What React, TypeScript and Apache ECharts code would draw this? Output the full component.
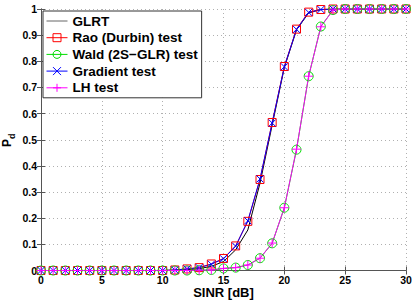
import React, { useEffect, useRef } from "react";
import * as echarts from "echarts";

const snr = [0,1,2,3,4,5,6,7,8,9,10,11,12,13,14,15,16,17,18,19,20,21,22,23,24,25,26,27,28,29,30];
const glrt = [0,0,0,0,0,0,0,0,0,0,0,0.001,0.003,0.007,0.016,0.034,0.079,0.155,0.334,0.556,0.776,0.92,0.985,0.998,1,1,1,1,1,1,1];
const rao = [0,0,0,0,0,0,0,0,0,0,0,0.002,0.006,0.011,0.025,0.046,0.094,0.188,0.348,0.566,0.78,0.923,0.988,0.998,1,1,1,1,1,1,1];
const wald = [0,0,0,0,0,0,0,0,0,0,0,0,0,0.001,0.002,0.008,0.011,0.021,0.047,0.104,0.24,0.462,0.743,0.933,0.996,1,1,1,1,1,1];
const gradient = [0,0,0,0,0,0,0,0,0,0,0,0.002,0.006,0.011,0.024,0.045,0.093,0.19,0.35,0.564,0.779,0.922,0.987,0.998,1,1,1,1,1,1,1];
const lh = [0,0,0,0,0,0,0,0,0,0,0,0,0,0.001,0.002,0.008,0.011,0.021,0.047,0.105,0.24,0.464,0.743,0.932,0.996,1,1,1,1,1,1];
const seriesNames = ["GLRT", "Rao (Durbin) test", "Wald (2S\u2212GLR) test", "Gradient test", "LH test"];
const xTicks = { min: 0, max: 30, interval: 5 };
const yTicks = { min: 0, max: 1, interval: 0.1 };

const FONT = "'Liberation Sans', Arial, sans-serif";

export default function App() {
  const ref = useRef<HTMLDivElement>(null);
  useEffect(() => {
    if (!ref.current) return;
    const chart = echarts.init(ref.current, null, { renderer: "svg" });
    const pair = (arr: number[]) => snr.map((x, i) => [x, arr[i]]);
    const axisLine = { show: true, lineStyle: { color: "#555", width: 1 } };
    const tick = { show: true, inside: true, length: 4, lineStyle: { color: "#555" } };
    const split = { show: true, lineStyle: { color: "#b0b0b0", type: [1, 3] as any, width: 1 } };
    const label = { color: "#000", fontFamily: FONT, fontWeight: "bold" as const, fontSize: 10.5, lineHeight: 11, margin: 4 };
    const mk = (name: string, data: number[], color: string, symbol: string, symbolSize: number) => ({
      name,
      type: "line",
      data: pair(data),
      xAxisIndex: 0,
      yAxisIndex: 0,
      symbol,
      symbolSize,
      showSymbol: symbol !== "none",
      lineStyle: { color, width: 1 },
      itemStyle: { color: "transparent", borderColor: color, borderWidth: 1 },
      emphasis: { disabled: true },
    });
    chart.setOption({
      animation: false,
      backgroundColor: "#fff",
      grid: { left: 41, top: 9, width: 365, height: 261.5, outerBoundsMode: "none", containLabel: false },
      legend: {
        orient: "vertical",
        left: 43,
        top: 11,
        data: [
          {
            name: seriesNames[0],
            itemStyle: { color: "transparent", borderColor: "transparent", borderWidth: 0 },
            lineStyle: { color: "#666", width: 1 },
          },
          seriesNames[1],
          seriesNames[2],
          seriesNames[3],
          seriesNames[4],
        ],
        lineStyle: { width: 1 },
        itemStyle: { borderWidth: 1 },
        backgroundColor: "#fff",
        borderColor: "#333",
        borderWidth: 1,
        padding: [3, 4, 3, 3],
        itemWidth: 21,
        itemHeight: 10,
        itemGap: 2.7,
        borderRadius: 0,
        textStyle: { color: "#000", fontFamily: FONT, fontWeight: "bold", fontSize: 13.5, lineHeight: 14 },
      },
      graphic: [
        {
          type: "group",
          x: 6.5,
          y: 147,
          rotation: Math.PI / 2,
          silent: true,
          children: [
            {
              type: "text",
              x: 0,
              y: 0,
              style: { text: "P", fontFamily: FONT, fontWeight: "bold", fontSize: 12, fill: "#000", align: "left", verticalAlign: "middle" },
            },
            {
              type: "text",
              x: 8,
              y: 5.5,
              style: { text: "d", fontFamily: FONT, fontWeight: "bold", fontSize: 9, fill: "#000", align: "left", verticalAlign: "middle" },
            },
          ],
        },
      ],
      xAxis: [
        {
          type: "value",
          ...xTicks,
          position: "bottom",
          axisLine,
          axisTick: tick,
          splitLine: split,
          axisLabel: label,
          name: "SINR [dB]",
          nameLocation: "middle",
          nameGap: 15,
          nameMoveOverlap: false,
          nameTextStyle: { color: "#000", fontFamily: FONT, fontWeight: "bold", fontSize: 13, lineHeight: 13 },
        },
        {
          type: "value",
          ...xTicks,
          position: "top",
          axisLine,
          axisTick: tick,
          splitLine: { show: false },
          axisLabel: { show: false },
        },
      ],
      yAxis: [
        {
          type: "value",
          ...yTicks,
          position: "left",
          axisLine,
          axisTick: tick,
          splitLine: split,
          axisLabel: label,
        },
        {
          type: "value",
          ...yTicks,
          position: "right",
          axisLine,
          axisTick: tick,
          splitLine: { show: false },
          axisLabel: { show: false },
        },
      ],
      series: [
        mk(seriesNames[0], glrt, "#000000", "none", 0),
        mk(seriesNames[1], rao, "#ff0000", "rect", 8),
        mk(seriesNames[2], wald, "#00dd00", "circle", 9),
        mk(seriesNames[3], gradient, "#0000ff", "path://M0,0L10,10M10,0L0,10", 7),
        mk(seriesNames[4], lh, "#ff00ff", "path://M5,0L5,10M0,5L10,5", 9),
      ],
    });
    return () => chart.dispose();
  }, []);
  return <div ref={ref} style={{ width: 415, height: 301, position: "absolute", left: 0, top: 0 }} />;
}
